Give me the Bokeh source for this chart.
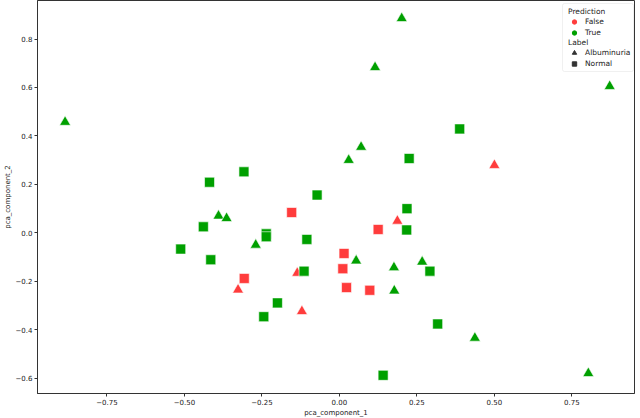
from bokeh.plotting import figure
from bokeh.models import (Range1d, FixedTicker, Legend, LegendItem, BoxAnnotation,
                          ColumnDataSource)
from bokeh.transform import factor_cmap, factor_mark
from bokeh.embed import file_html
from bokeh.resources import INLINE

# ---- data ----
pca_component_1 = [
    -0.885, 0.201, 0.115, 0.872, 0.070, 0.030, -0.390, -0.364, -0.270, 0.054,
    0.176, 0.267, 0.177, 0.437, 0.803,
    0.500, 0.187, -0.136, -0.327, -0.121,
    -0.154, 0.125, 0.015, 0.011, 0.023, 0.098, -0.307,
    0.388, 0.225, -0.072, -0.419, -0.308, -0.439, -0.236, -0.236, -0.512, -0.105,
    -0.415, -0.114, -0.200, -0.244, 0.218, 0.217, 0.292, 0.317, 0.141,
]
pca_component_2 = [
    0.457, 0.885, 0.683, 0.605, 0.354, 0.300, 0.070, 0.060, -0.050, -0.115,
    -0.143, -0.120, -0.239, -0.434, -0.580,
    0.279, 0.049, -0.166, -0.235, -0.324,
    0.084, 0.014, -0.085, -0.148, -0.226, -0.237, -0.188,
    0.429, 0.307, 0.156, 0.209, 0.252, 0.025, -0.004, -0.016, -0.067, -0.027,
    -0.111, -0.158, -0.289, -0.346, 0.100, 0.012, -0.158, -0.376, -0.588,
]
prediction = (["True"] * 15 + ["False"] * 5 + ["False"] * 7 + ["True"] * 19)
label = (["Albuminuria"] * 15 + ["Albuminuria"] * 5 + ["Normal"] * 7 + ["Normal"] * 19)

prediction_levels = ["False", "True"]
label_levels = ["Albuminuria", "Normal"]

x_ticks = [-0.75, -0.5, -0.25, 0.0, 0.25, 0.5, 0.75]
x_tick_labels = ["\u22120.75", "\u22120.50", "\u22120.25", "0.00", "0.25", "0.50", "0.75"]
y_ticks = [-0.6, -0.4, -0.2, 0.0, 0.2, 0.4, 0.6, 0.8]
y_tick_labels = ["\u22120.6", "\u22120.4", "\u22120.2", "0.0", "0.2", "0.4", "0.6", "0.8"]

# ---- styles ----
RED = "#ff3c3c"
GREEN = "#00a000"
DARK = "#333333"
FONT = "DejaVu Sans"
TXT = "#222222"
marker_size = {"Albuminuria": 11, "Normal": 10}

src = ColumnDataSource(dict(
    x=pca_component_1, y=pca_component_2, prediction=prediction, label=label,
    size=[marker_size[l] for l in label],
))

FW, FH = 597, 393
p = figure(frame_width=FW, frame_height=FH, output_backend="svg", toolbar_location=None,
           x_range=Range1d(-0.974, 0.952), y_range=Range1d(-0.663, 0.959),
           min_border_left=0, min_border_right=3, min_border_top=0, min_border_bottom=0)

p.scatter("x", "y", source=src, size="size",
          marker=factor_mark("label", ["triangle", "square"], label_levels),
          fill_color=factor_cmap("prediction", [RED, GREEN], prediction_levels),
          line_color="white", line_width=0.6)

p.grid.visible = False
p.outline_line_color = DARK
p.outline_line_width = 1
p.background_fill_color = "white"
p.border_fill_color = "white"

p.xaxis.ticker = FixedTicker(ticks=x_ticks)
p.xaxis.major_label_overrides = dict(zip(x_ticks, x_tick_labels))
p.yaxis.ticker = FixedTicker(ticks=y_ticks)
p.yaxis.major_label_overrides = dict(zip(y_ticks, y_tick_labels))
p.xaxis.axis_label = "pca_component_1"
p.yaxis.axis_label = "pca_component_2"
for ax in (p.xaxis[0], p.yaxis[0]):
    ax.minor_tick_line_color = None
    ax.major_tick_in = 0
    ax.major_tick_out = 3
    ax.major_tick_line_color = DARK
    ax.axis_line_color = DARK
    ax.major_label_text_font = FONT
    ax.major_label_text_font_size = "7px"
    ax.major_label_text_color = TXT
    ax.axis_label_text_font = FONT
    ax.axis_label_text_font_size = "7px"
    ax.axis_label_text_font_style = "normal"
    ax.axis_label_text_color = TXT
    ax.major_label_standoff = 2
    ax.axis_label_standoff = 1

# ---- legend (proxy renderers, hidden from the plot area) ----
px, py = pca_component_1[:1], pca_component_2[:1]
leg_false = p.scatter(px, py, marker="circle", fill_color=RED, line_color=RED, visible=False)
leg_true = p.scatter(px, py, marker="circle", fill_color=GREEN, line_color=GREEN, visible=False)
leg_alb = p.scatter(px, py, marker="triangle", fill_color=DARK, line_color=DARK, visible=False)
leg_norm = p.scatter(px, py, marker="square", fill_color=DARK, line_color=DARK, visible=False)

LW = 71
LEFT = FW - LW - 1
TOP = FH - 3
box = BoxAnnotation(left=LEFT, right=LEFT + LW, top=TOP, bottom=TOP - 68,
                    left_units="screen", right_units="screen",
                    top_units="screen", bottom_units="screen",
                    fill_color="white", fill_alpha=0.85,
                    line_color="#cccccc", line_width=1, border_radius=2)
p.add_layout(box)

LH = 39  # estimated legend block height


def make_legend(title, items, loc):
    lg = Legend(title=title, items=items, location=loc, click_policy="none")
    lg.border_line_alpha = 0
    lg.background_fill_alpha = 0
    lg.title_text_font = FONT
    lg.title_text_font_size = "7.5px"
    lg.title_text_font_style = "normal"
    lg.title_text_color = TXT
    lg.title_standoff = 0
    lg.label_text_font = FONT
    lg.label_text_font_size = "7.5px"
    lg.label_text_color = TXT
    lg.glyph_width = 12
    lg.glyph_height = 11
    lg.label_height = 11
    lg.label_standoff = 5
    lg.spacing = 0
    lg.padding = 3
    lg.margin = 0
    return lg


lg1 = make_legend("Prediction",
                  [LegendItem(label=prediction_levels[0], renderers=[leg_false]),
                   LegendItem(label=prediction_levels[1], renderers=[leg_true])],
                  (LEFT + 3, TOP + 1 - LH))
lg2 = make_legend("Label",
                  [LegendItem(label=label_levels[0], renderers=[leg_alb]),
                   LegendItem(label=label_levels[1], renderers=[leg_norm])],
                  (LEFT + 3, TOP + 1 - 31 - LH))
p.add_layout(lg1)
p.add_layout(lg2)

open("out.html", "w").write(file_html(p, INLINE))
